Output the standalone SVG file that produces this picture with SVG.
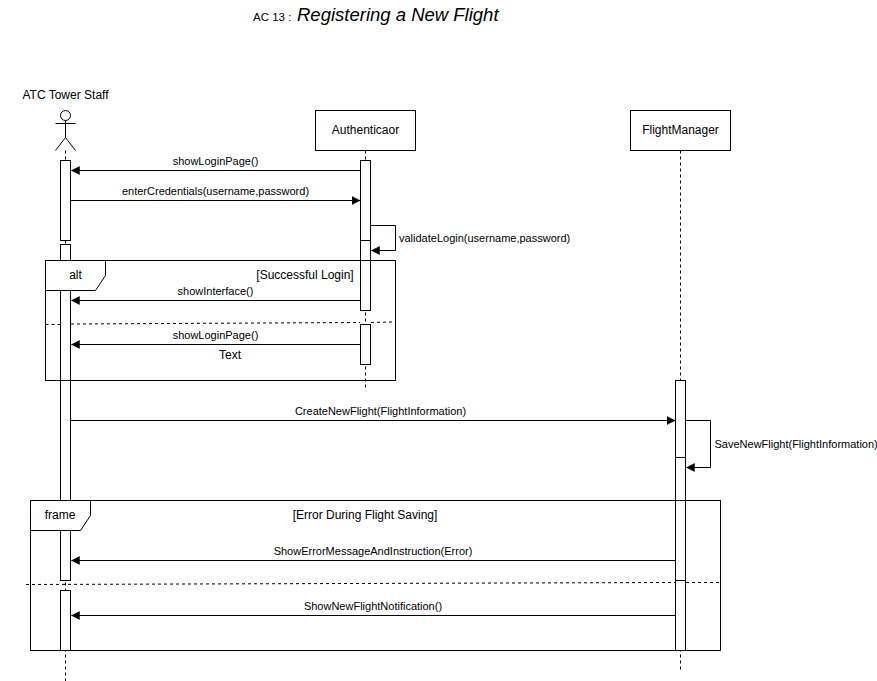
<svg xmlns="http://www.w3.org/2000/svg" width="877" height="681" viewBox="0 0 877 681">
<defs>
<marker id="arrow" markerUnits="userSpaceOnUse" markerWidth="10" markerHeight="10" refX="8" refY="4.5" orient="auto"><path d="M0,0.5L8,4.5L0,8.500Z" fill="#000" stroke="#000" stroke-width="0.5"/></marker>
</defs>
<style>
text{font-family:"Liberation Sans",Arial,sans-serif;font-size:11px;fill:#000;text-anchor:middle}
.l{fill:#fff;stroke:#000;stroke-width:1}
.f{fill:none;stroke:#000;stroke-width:1}
.d{fill:none;stroke:#000;stroke-width:1;stroke-dasharray:3 3}
.m{fill:none;stroke:#000;stroke-width:1;marker-end:url(#arrow)}
</style>
<rect width="877" height="681" fill="#fff"/>
<g id="title"><text x="253" y="21" style="text-anchor:start;font-size:11.5px">AC 13 :</text><text x="297" y="21" style="text-anchor:start;font-size:18.5px;font-style:italic">Registering a New Flight</text></g>
<g id="lifelines">
<path class="d" d="M65.5 150.500V681"/>
<path class="d" d="M365.500 150.500V388"/>
<path class="d" d="M680.500 150.500V670"/>
</g>
<g id="actor-atc-tower-staff">
<circle class="f" cx="65.500" cy="115.500" r="5"/>
<path class="f" d="M65.500 120.500V137.500M55.500 123.500H75.500M55.500 150.500L65.500 137.500L75.500 150.500"/>
<text x="65.500" y="98.500" style="font-size:12px">ATC Tower Staff</text>
</g>
<g id="node-authenticaor">
<rect class="l" x="315.500" y="110.500" width="100" height="40"/>
<text x="365.500" y="134" style="font-size:12px">Authenticaor</text>
</g>
<g id="node-flightmanager">
<rect class="l" x="630.500" y="110.500" width="100" height="40"/>
<text x="680.500" y="134" style="font-size:12px">FlightManager</text>
</g>
<g id="activations">
<rect class="l" x="60.500" y="160.500" width="10" height="80"/>
<rect class="l" x="60.500" y="244.500" width="10" height="336"/>
<rect class="l" x="60.500" y="590.500" width="10" height="60"/>
<rect class="l" x="360.500" y="160.500" width="10" height="80"/>
<rect class="l" x="360.500" y="240.500" width="10" height="70"/>
<rect class="l" x="360.500" y="324.500" width="10" height="40"/>
<rect class="l" x="675.500" y="380.500" width="10" height="77"/>
<rect class="l" x="675.500" y="457.500" width="10" height="123"/>
<rect class="l" x="675.500" y="580.500" width="10" height="70"/>
</g>
<g id="frame-alt">
<rect class="f" x="45.500" y="260.500" width="350" height="120"/>
<path class="l" d="M45.500 260.500H105.500V275.500L95.500 290.500H45.500Z"/>
<text x="75.500" y="279" style="font-size:12px">alt</text>
<text x="305" y="279" style="font-size:12px">[Successful Login]</text>
<path class="d" d="M45.500 324.500L60 324.500M71 324L360 322.500M371 322.500L392 322"/>
<text x="230" y="359" style="font-size:12px">Text</text>
</g>
<g id="frame-frame">
<rect class="f" x="30.500" y="500.500" width="690" height="150"/>
<path class="l" d="M30.500 500.500H90.500V515.500L80.500 530.500H30.500Z"/>
<text x="60" y="519" style="font-size:12px">frame</text>
<text x="365" y="519" style="font-size:12px">[Error During Flight Saving]</text>
<path class="d" d="M26 584.500L675 582.500M686 582.500H720"/>
</g>
<g id="connectors">
<path class="m" d="M360.500 170.500H71.500"/>
<path class="m" d="M70.500 200.500H360"/>
<path class="m" d="M370.500 225.500H395.500V250.500H371.500"/>
<path class="m" d="M360.500 300.500H71.500"/>
<path class="m" d="M360.500 344.500H71.500"/>
<path class="m" d="M70.500 420.500H675"/>
<path class="m" d="M685.500 420.500H710.500V467.500H686.500"/>
<path class="m" d="M675.500 560.500H71.500"/>
<path class="m" d="M675.500 615.500H71.500"/>
</g>
<g id="labels">
<text x="215.500" y="165">showLoginPage()</text>
<text x="215.500" y="195">enterCredentials(username,password)</text>
<text x="399" y="242" style="text-anchor:start">validateLogin(username,password)</text>
<text x="215.500" y="295">showInterface()</text>
<text x="215.500" y="339">showLoginPage()</text>
<text x="380.500" y="415">CreateNewFlight(FlightInformation)</text>
<text x="714.500" y="448" style="text-anchor:start">SaveNewFlight(FlightInformation)</text>
<text x="373" y="555">ShowErrorMessageAndInstruction(Error)</text>
<text x="373" y="610">ShowNewFlightNotification()</text>
</g>
</svg>
